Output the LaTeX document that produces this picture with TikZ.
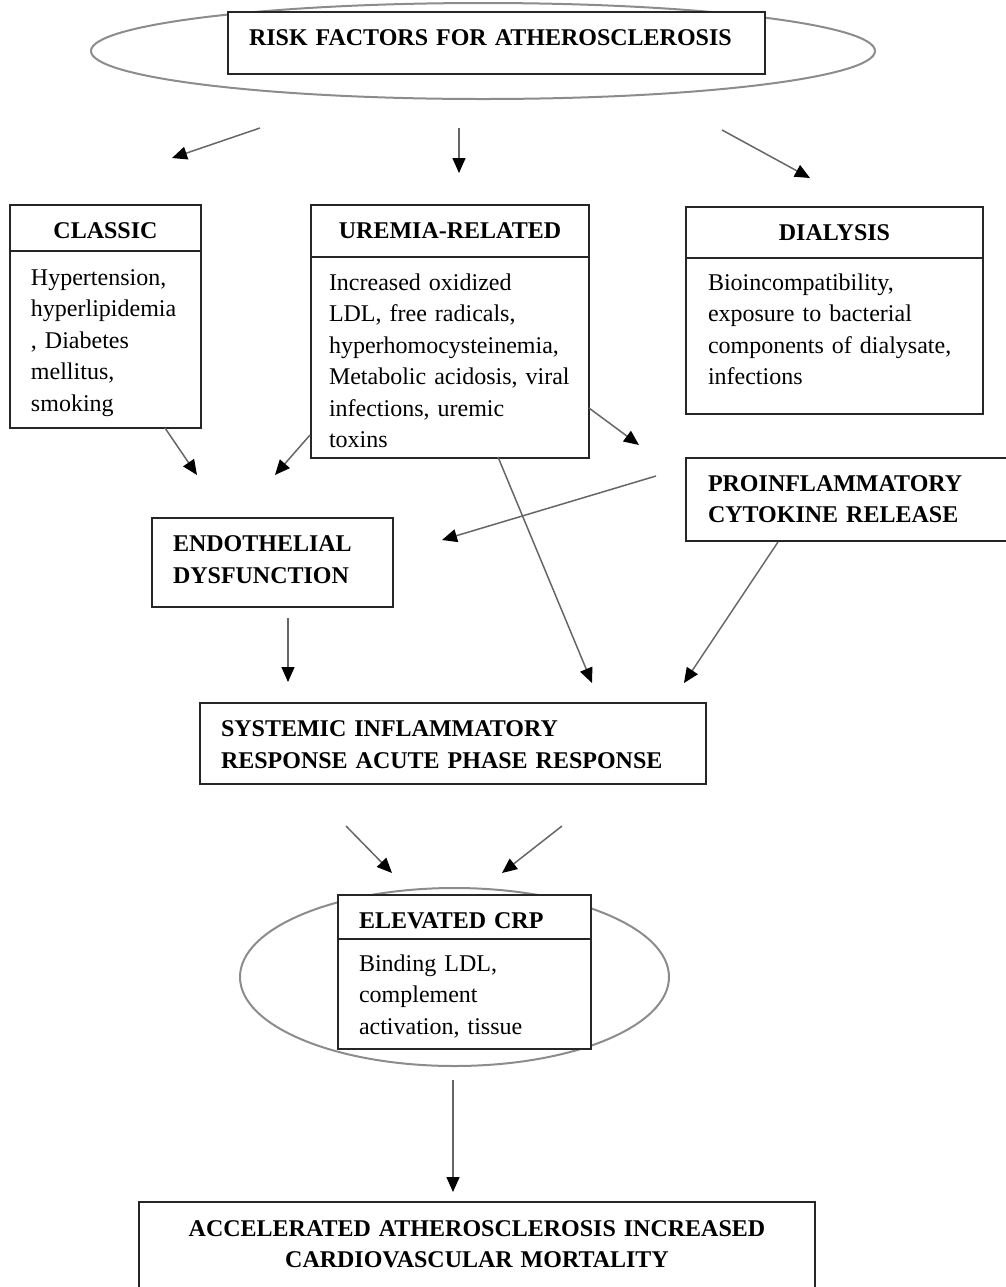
\documentclass[tikz,border=0pt]{standalone}
\usepackage{fontspec}
\setmainfont{Liberation Serif}
\usetikzlibrary{arrows.meta}
\newcommand{\boxcol}{black!85}
\newcommand{\arrowcol}{black!60}
\newcommand{\ringcol}{black!45}
\newcommand{\frameline}{1pt}

\begin{document}
\begin{tikzpicture}[x=0.5pt,y=-0.5pt,
  box/.style={draw=\boxcol, line width=\frameline, fill=white, anchor=north west,
    inner ysep=0pt, inner xsep=10.5pt, font=\fontsize{12pt}{15.75pt}\selectfont},
  head/.style={box, font=\fontsize{12pt}{15.75pt}\selectfont\bfseries},
  arr/.style={draw=\arrowcol, line width=0.75pt, -{Triangle[length=7.5pt,width=6.5pt,color=black]}},
  ring/.style={draw=\ringcol, line width=1pt}]
\useasboundingbox (0,0) rectangle (1006,1287);
\clip (0,0) rectangle (1006,1287);
%rings
\draw[ring] (483,51) ellipse [x radius=196pt, y radius=24pt];
\draw[ring] (454.5,977) ellipse [x radius=107.25pt, y radius=44.5pt];
%top
\node[head, text width=247.5pt, align=left, text height=16.5pt, text depth=14.5pt] (risk) at (227,11) {RISK FACTORS FOR ATHEROSCLEROSIS};
%classic
\node[head, text width=74.5pt, align=center, text height=16.75pt, text depth=6.25pt] (classic) at (9,204) {CLASSIC};
\node[box, text width=74.5pt, align=left, text height=17pt, text depth=71.5pt] (classicbody) at (9,250) {Hypertension,\\hyperlipidemia\\, Diabetes\\mellitus,\\smoking};
%uremia
\node[head, text width=121pt, inner xsep=9pt, align=center, text height=16.85pt, text depth=9.15pt] (uremia) at (310,204) {UREMIA-RELATED};
\node[box, text width=121pt, inner xsep=9pt, align=left, text height=16.5pt, text depth=84pt] (uremiabody) at (310,256) {Increased oxidized\\LDL, free radicals,\\hyperhomocysteinemia,\\Metabolic acidosis, viral\\infections, uremic\\toxins};
%dialysis
\node[head, text width=126.5pt, inner xsep=11pt, align=center, text height=16.65pt, text depth=8.85pt] (dialysis) at (685,206) {DIALYSIS};
\node[box, text width=126.5pt, inner xsep=11pt, align=left, text height=16.15pt, text depth=61.85pt] (dialysisbody) at (685,257) {Bioincompatibility,\\exposure to bacterial\\components of dialysate,\\infections};
%middle
\node[head, text width=141.5pt, inner xsep=11pt, align=left, text height=16.5pt, text depth=25pt] (cytokine) at (685,457) {PROINFLAMMATORY\\CYTOKINE RELEASE};
\node[head, text width=99.5pt, align=left, text height=16.85pt, text depth=27.65pt] (endo) at (151,517) {ENDOTHELIAL\\DYSFUNCTION};
\node[head, text width=232pt, align=left, text height=16.85pt, text depth=23.65pt] (systemic) at (199,702) {SYSTEMIC INFLAMMATORY\\RESPONSE ACUTE PHASE RESPONSE};
%crp
\node[head, text width=105.5pt, align=left, text height=16.65pt, text depth=5.35pt] (crp) at (337,894) {ELEVATED CRP};
\node[box, text width=105.5pt, align=left, text height=16pt, text depth=39pt] (crpbody) at (337,938) {Binding LDL,\\complement\\activation, tissue};
%bottom
\node[head, text width=317pt, align=center, text height=17pt, text depth=32.5pt] (outcome) at (138,1201) {ACCELERATED ATHEROSCLEROSIS INCREASED\\CARDIOVASCULAR MORTALITY};
%arrow ends
\coordinate (risk-l) at (260,128);
\coordinate (risk-m) at (459,128);
\coordinate (risk-r) at (722,130);
\coordinate (classic-in) at (172,158);
\coordinate (uremia-in) at (459,173);
\coordinate (dialysis-in) at (810,178);
\coordinate (classic-out) at (165,428);
\coordinate (uremia-w) at (310,435);
\coordinate (uremia-e) at (589,408);
\coordinate (uremia-s) at (498,457);
\coordinate (cytokine-w) at (656,476);
\coordinate (cytokine-s) at (778,542);
\coordinate (cytokine-in) at (639,445);
\coordinate (endo-l) at (197,475);
\coordinate (endo-m) at (275,475);
\coordinate (endo-r) at (442,540);
\coordinate (endo-s) at (288,618);
\coordinate (systemic-l) at (288,682);
\coordinate (systemic-m) at (592,683);
\coordinate (systemic-r) at (684,683);
\coordinate (systemic-a) at (346,826);
\coordinate (systemic-b) at (562,826);
\coordinate (crp-l) at (392,873);
\coordinate (crp-r) at (502,873);
\coordinate (crp-s) at (453,1080);
\coordinate (outcome-in) at (453,1192);
%arrows
\draw[arr] (risk-l) -- (classic-in);
\draw[arr] (risk-m) -- (uremia-in);
\draw[arr] (risk-r) -- (dialysis-in);
\draw[arr] (classic-out) -- (endo-l);
\draw[arr] (uremia-w) -- (endo-m);
\draw[arr] (uremia-e) -- (cytokine-in);
\draw[arr] (cytokine-w) -- (endo-r);
\draw[arr] (uremia-s) -- (systemic-m);
\draw[arr] (cytokine-s) -- (systemic-r);
\draw[arr] (endo-s) -- (systemic-l);
\draw[arr] (systemic-a) -- (crp-l);
\draw[arr] (systemic-b) -- (crp-r);
\draw[arr] (crp-s) -- (outcome-in);
\end{tikzpicture}
\end{document}
